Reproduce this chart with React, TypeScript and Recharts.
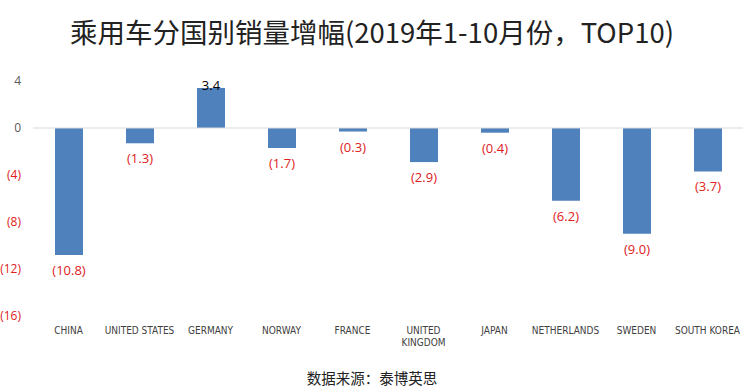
import { BarChart, Bar, XAxis, YAxis, ReferenceLine, LabelList } from "recharts";

const countries = ["CHINA", "UNITED STATES", "GERMANY", "NORWAY", "FRANCE", "UNITED KINGDOM", "JAPAN", "NETHERLANDS", "SWEDEN", "SOUTH KOREA"];
const growth = [-10.8, -1.3, 3.4, -1.7, -0.3, -2.9, -0.4, -6.2, -9.0, -3.7];
const yTicks = [4, 0, -4, -8, -12, -16];

const data = countries.map((name, i) => ({ name, growth: growth[i] }));

const fmt = (v: number) => (v < 0 ? `(${Math.abs(v).toFixed(1)})` : v === 0 ? "0" : `${v}`);
const fmtTick = (v: number) => (v < 0 ? `(${Math.abs(v)})` : `${v}`);

const YTick = (props: any) => {
    const { x, y, payload } = props
    const v = payload.value
    return (
        <text x={x - 4} y={y} dy={4} textAnchor="end" fontSize={12} fill={v < 0 ? "#e0201c" : "#595959"} fontFamily="'Open Sans', 'Noto Sans', sans-serif">
            {fmtTick(v)}
        </text>
    )
}

const XTick = (props: any) => {
    const { x, y, payload } = props
    const words = payload.value === "UNITED KINGDOM" ? ["UNITED", "KINGDOM"] : [payload.value]
    return (
        <text x={x} y={y} textAnchor="middle" fontSize={10} fill="#404040" fontFamily="'Liberation Sans Narrow', 'DejaVu Sans Condensed', sans-serif">
            {words.map((w, i) => (
                <tspan key={i} x={x} dy={i === 0 ? 10 : 12}>{w}</tspan>
            ))}
        </text>
    )
}

const ValueLabel = (props: any) => {
    const { x, y, width, height, value } = props
    const top = Math.min(y, y + height)
    const bottom = Math.max(y, y + height)
    const cx = x + width / 2
    if (value >= 0) {
        return (
            <text x={cx} y={top + 2} textAnchor="middle" fontSize={13} fill="#000" fontFamily="'Open Sans', 'Noto Sans', sans-serif">
                {fmt(value)}
            </text>
        )
    }
    return (
        <text x={cx} y={bottom + 20} textAnchor="middle" fontSize={13} fill="#e0201c" fontFamily="'Open Sans', 'Noto Sans', sans-serif">
            {fmt(value)}
        </text>
    )
}

export default function App() {
    return (
        <div style={{ position: "absolute", left: 0, top: 0, width: 744, height: 392, background: "#fff" }}>
            <div style={{ position: "absolute", top: 12, width: 744, textAlign: "center", fontSize: 27.5, color: "#222", fontFamily: "'Noto Sans CJK SC', sans-serif", lineHeight: "38px" }}>
                乘用车分国别销量增幅(2019年1-10月份，TOP10)
            </div>
            <BarChart width={744} height={392} data={data} margin={{ top: 81, right: 1, bottom: 46, left: 0 }}>
                <YAxis width={33} domain={[-16, 4]} ticks={yTicks} axisLine={false} tickLine={false} tick={<YTick />} interval={0} />
                <XAxis dataKey="name" height={30} axisLine={false} tickLine={false} tick={<XTick />} interval={0} />
                <ReferenceLine y={0} stroke="#d9d9d9" strokeWidth={1} />
                <Bar dataKey="growth" fill="#4f81bd" barSize={28} isAnimationActive={false}>
                    <LabelList dataKey="growth" content={<ValueLabel />} />
                </Bar>
            </BarChart>
            <div style={{ position: "absolute", top: 367, width: 744, textAlign: "center", fontSize: 14.5, color: "#222", fontFamily: "'Noto Sans CJK SC', sans-serif" }}>
                数据来源：泰博英思
            </div>
        </div>
    )
}
